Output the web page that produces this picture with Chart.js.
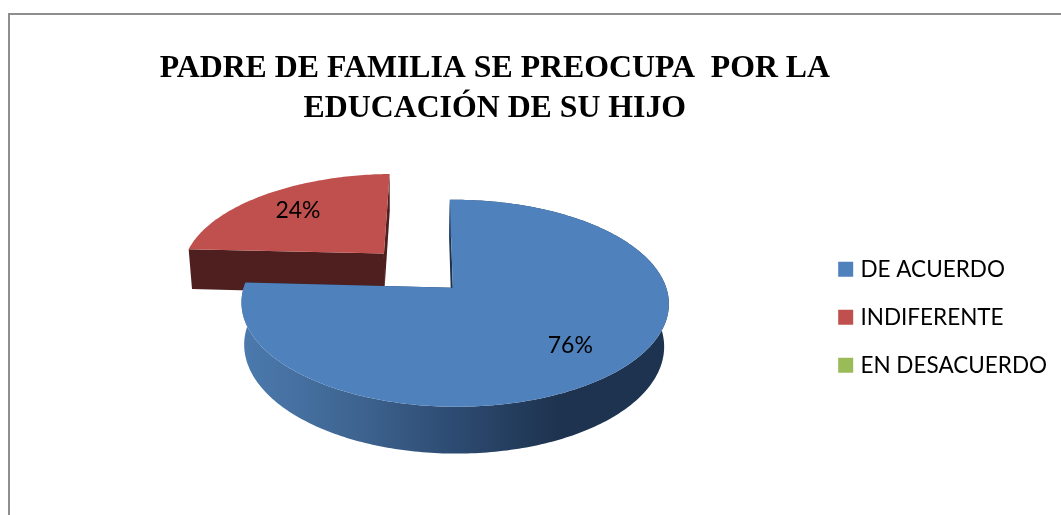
<!DOCTYPE html>
<html>
<head>
<meta charset="utf-8">
<script src="https://cdn.jsdelivr.net/npm/chart.js@4/dist/chart.umd.min.js"></script>
<style>
  html, body { margin: 0; background: #fff; overflow: hidden; }
  #frame { position: absolute; left: 8px; top: 13px; width: 1100px; height: 600px; border: 2px solid #8e8e8e; }
  #chart { position: absolute; left: 0; top: 0; }
</style>
</head>
<body>
<div id="frame"></div>
<canvas id="chart" width="1061" height="515"></canvas>
<script>
// ==================== DATA ====================
const categories = ["DE ACUERDO", "INDIFERENTE", "EN DESACUERDO"];
const shares = [76, 24, 0];
const titleLines = ["PADRE DE FAMILIA SE PREOCUPA  POR LA", "EDUCACIÓN DE SU HIJO"];

// ==================== 3D PIE LOOK ====================
const faceColors = ["#4f81bd", "#c0504d", "#9bbb59"];
const cutColors = ["#1e334f", "#4e1f1e", "#4e5e2c"];

// Homography of the pie's unit disc onto the screen (tilted, in perspective)
const view = {
  shiftX: -42, shiftY: -29.5,
  a: 207.5, b: 64.4, d: -3.5, e: -58.05, g: -0.0083, h: 0.1498,
  depth: 0.0173, vanishX: 400, vanishY: 2757
};

function project(arc, x, y, down) {
  const w = 1 + view.g * x + view.h * y;
  const nx = view.a * x + view.b * y + arc.x + view.shiftX;
  const ny = view.d * x + view.e * y + arc.y + view.shiftY;
  const r = down ? view.depth : 0;
  return { x: (nx + r * view.vanishX) / (w + r), y: (ny + r * view.vanishY) / (w + r) };
}

function tracePoly(ctx, pts) {
  ctx.beginPath();
  pts.forEach((p, i) => i ? ctx.lineTo(p.x, p.y) : ctx.moveTo(p.x, p.y));
  ctx.closePath();
}

// Rim of a slice from its angles, as disc coordinates
function rim(arc, off) {
  const pts = [];
  const steps = Math.max(2, Math.ceil((arc.endAngle - arc.startAngle) * 60));
  for (let i = 0; i <= steps; i++) {
    const t = arc.startAngle + (arc.endAngle - arc.startAngle) * i / steps;
    pts.push({ x: Math.cos(t) + off.x, y: -Math.sin(t) + off.y });
  }
  return pts;
}

const pie3d = {
  id: "pie3d",
  // the title box is narrower than its text here, widen it so the text is not squeezed
  afterLayout(chart) {
    chart.titleBlock.left -= 30;
    chart.titleBlock.right += 30;
  },
  beforeDatasetsDraw(chart, args, opts) {
    const ctx = chart.ctx;
    const arcs = chart.getDatasetMeta(0).data;
    const total = shares.reduce((s, v) => s + v, 0);

    // back slices first, the big slice sits in front
    [2, 1, 0].forEach(i => {
      const arc = arcs[i];
      if (!shares[i]) return;
      const mid = (arc.startAngle + arc.endAngle) / 2;
      const off = { x: Math.cos(mid) * opts.explode[i], y: -Math.sin(mid) * opts.explode[i] };
      const edge = rim(arc, off);
      const first = edge[0], last = edge[edge.length - 1];
      const up = p => project(arc, p.x, p.y, false);
      const dn = p => project(arc, p.x, p.y, true);

      // cut walls
      ctx.fillStyle = cutColors[i];
      [first, last].forEach(p => {
        tracePoly(ctx, [up(off), up(p), dn(p), dn(off)]);
        ctx.fill();
      });

      // outer wall, shaded left to right
      const x0 = project(arc, -1, 0, true).x, x1 = project(arc, 1, 0, true).x;
      const shade = ctx.createLinearGradient(x0, 0, x1, 0);
      opts.shades[i].forEach((c, k, all) => shade.addColorStop(k / (all.length - 1), c));
      if (opts.outerWall[i]) {
        tracePoly(ctx, edge.map(up).concat(edge.map(dn).reverse()));
        ctx.fillStyle = shade;
        ctx.fill();
      }

      // top face
      tracePoly(ctx, [up(off)].concat(edge.map(up)));
      ctx.fillStyle = faceColors[i];
      ctx.fill();

      // percent label
      const lx = Math.cos(mid) * opts.labelAt + off.x, ly = -Math.sin(mid) * opts.labelAt + off.y;
      const at = up({ x: lx, y: ly });
      ctx.fillStyle = "#000";
      ctx.font = "23px Lato";
      ctx.textAlign = "center";
      ctx.textBaseline = "middle";
      ctx.fillText(Math.round(shares[i] / total * 100) + "%", at.x + 2, at.y + 1);
    });
    return false; // the default flat arcs are not drawn
  }
};

// ==================== CHART ====================
new Chart(document.getElementById("chart"), {
  type: "pie",
  plugins: [pie3d],
  data: {
    labels: categories,
    datasets: [{ data: shares, backgroundColor: faceColors, borderWidth: 0 }]
  },
  options: {
    responsive: false,
    animation: false,
    layout: { padding: { left: 173, right: 4, top: 0, bottom: 17 } },
    plugins: {
      tooltip: { enabled: false },
      title: {
        display: true,
        text: titleLines,
        fullSize: false,
        color: "#000",
        font: { family: "Liberation Serif", size: 31.8, weight: "bold", lineHeight: 1.25 },
        padding: { top: 49, bottom: 8 }
      },
      legend: {
        position: "right",
        fullSize: false,
        labels: {
          usePointStyle: true,
          pointStyle: "rect",
          boxWidth: 7,
          boxHeight: 15,
          padding: 25.5,
          color: "#000",
          font: { family: "Lato", size: 22.5 }
        }
      },
      pie3d: {
        explode: [0, 0.495, 0],
        labelAt: 0.72,
        outerWall: [true, false, false],
        shades: [["#4b79ad", "#3f6692", "#2d4b72", "#1e334f", "#1e334f"], ["#4e1f1e", "#4e1f1e"], ["#4e5e2c", "#4e5e2c"]]
      }
    }
  }
});
</script>
</body>
</html>
